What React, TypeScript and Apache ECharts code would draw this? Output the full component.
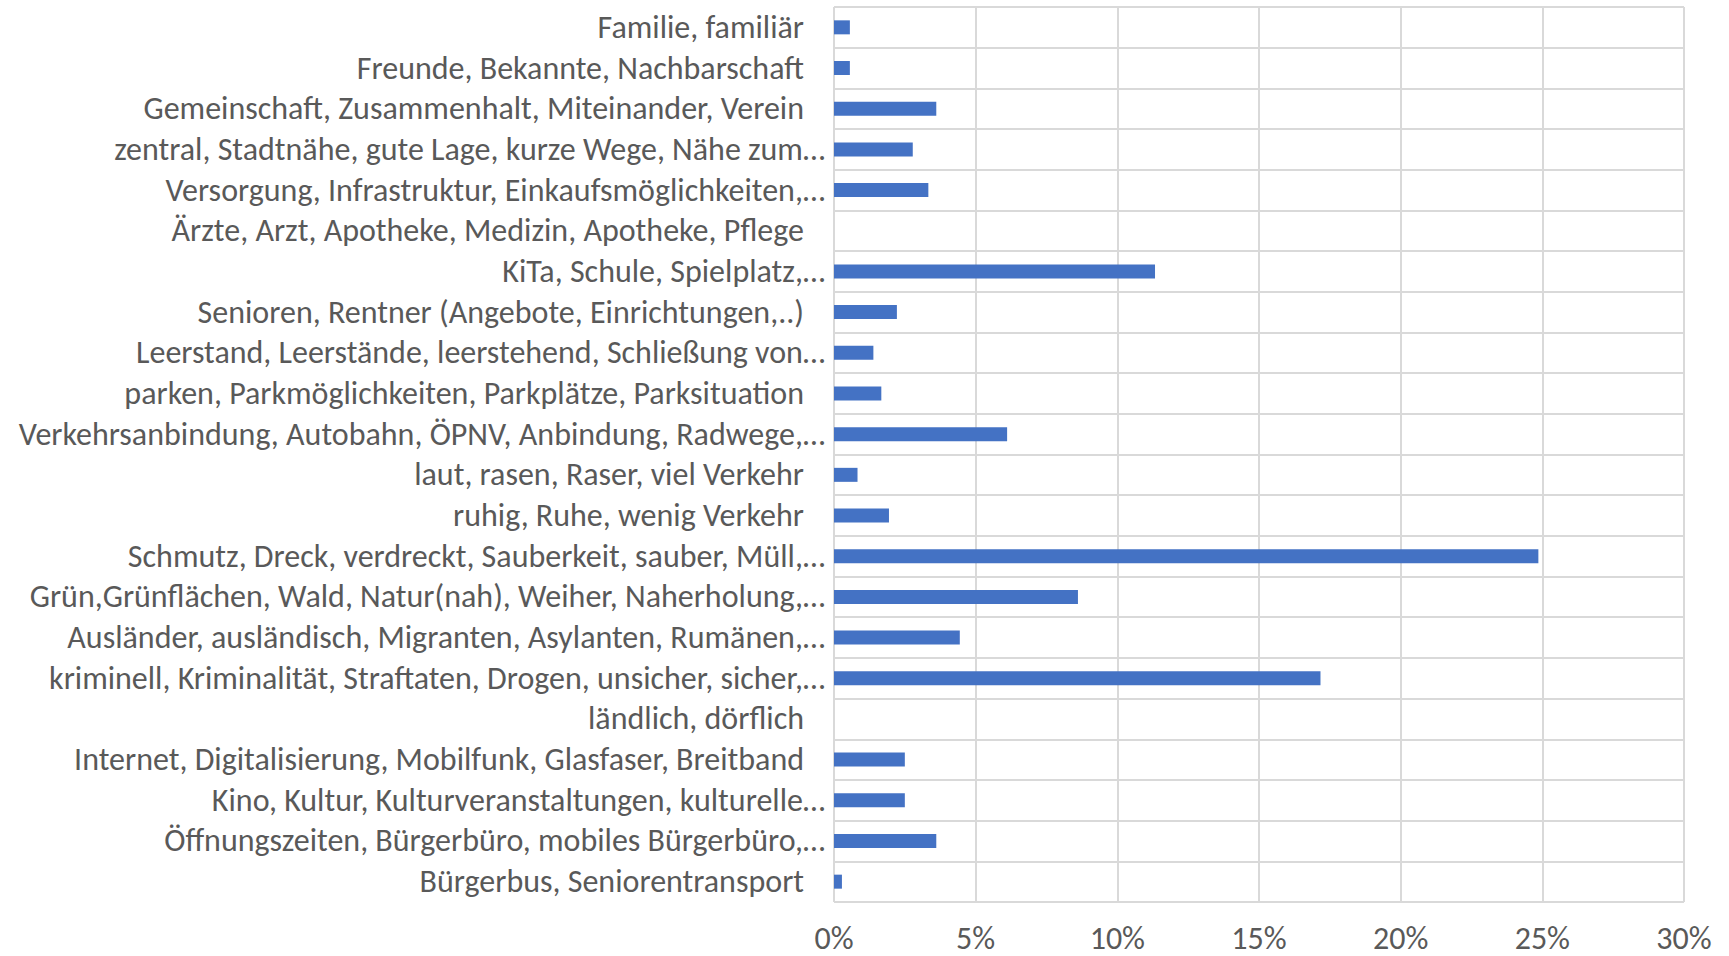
import React, { useEffect, useRef } from "react";
import * as echarts from "echarts";

const categories: string[] = [
  "Familie, familiär",
  "Freunde, Bekannte, Nachbarschaft",
  "Gemeinschaft, Zusammenhalt, Miteinander, Verein",
  "zentral, Stadtnähe, gute Lage, kurze Wege, Nähe zum…",
  "Versorgung, Infrastruktur, Einkaufsmöglichkeiten,…",
  "Ärzte, Arzt, Apotheke, Medizin, Apotheke, Pflege",
  "KiTa, Schule, Spielplatz,…",
  "Senioren, Rentner (Angebote, Einrichtungen,..)",
  "Leerstand, Leerstände, leerstehend, Schließung von…",
  "parken, Parkmöglichkeiten, Parkplätze, Parksituation",
  "Verkehrsanbindung, Autobahn, ÖPNV, Anbindung, Radwege,…",
  "laut, rasen, Raser, viel Verkehr",
  "ruhig, Ruhe, wenig Verkehr",
  "Schmutz, Dreck, verdreckt, Sauberkeit, sauber, Müll,…",
  "Grün,Grünflächen, Wald, Natur(nah), Weiher, Naherholung,…",
  "Ausländer, ausländisch, Migranten, Asylanten, Rumänen,…",
  "kriminell, Kriminalität, Straftaten, Drogen, unsicher, sicher,…",
  "ländlich, dörflich",
  "Internet, Digitalisierung, Mobilfunk, Glasfaser, Breitband",
  "Kino, Kultur, Kulturveranstaltungen, kulturelle…",
  "Öffnungszeiten, Bürgerbüro, mobiles Bürgerbüro,…",
  "Bürgerbus, Seniorentransport",
];

const values: number[] = [
  0.56, 0.56, 3.61, 2.78, 3.33, 0, 11.33, 2.22, 1.39, 1.67, 6.11, 0.83, 1.94,
  24.86, 8.61, 4.44, 17.17, 0, 2.5, 2.5, 3.61, 0.28,
];

const xTicks = { min: 0, max: 30, interval: 5 };

const FONT = "Carlito, Calibri, Lato, sans-serif";
const TEXT_COLOR = "#595959";
const GRID_COLOR = "#D9D9D9";
const BAR_COLOR = "#4472C4";

export default function App() {
  const ref = useRef<HTMLDivElement>(null);
  useEffect(() => {
    if (!ref.current) return;
    const chart = echarts.init(ref.current, undefined, { renderer: "svg" });
    chart.setOption({
      animation: false,
      backgroundColor: "#ffffff",
      grid: { left: 834, right: 45, top: 7, bottom: 54, containLabel: false },
      xAxis: {
        type: "value",
        min: xTicks.min,
        max: xTicks.max,
        interval: xTicks.interval,
        axisLine: { show: false },
        axisTick: { show: false },
        splitLine: { show: true, lineStyle: { color: GRID_COLOR, width: 2 } },
        axisLabel: {
          formatter: "{value}%",
          color: TEXT_COLOR,
          fontFamily: FONT,
          fontSize: 32,
          lineHeight: 32,
          margin: 20,
        },
      },
      yAxis: {
        type: "category",
        inverse: true,
        data: categories,
        boundaryGap: true,
        axisLine: { show: false },
        axisTick: { show: false },
        splitLine: { show: true, lineStyle: { color: GRID_COLOR, width: 2 } },
        axisLabel: {
          interval: 0,
          margin: 9,
          formatter: (v: string) => (v.endsWith("…") ? `{t|${v}}` : `{n|${v}}`),
          rich: {
            t: { color: TEXT_COLOR, fontFamily: FONT, fontSize: 32 },
            n: {
              color: TEXT_COLOR,
              fontFamily: FONT,
              fontSize: 32,
              padding: [0, 21, 0, 0],
            },
          },
        },
      },
      series: [
        {
          type: "bar",
          data: values,
          barWidth: 14,
          itemStyle: { color: BAR_COLOR },
        },
      ],
    });
    return () => chart.dispose();
  }, []);
  return (
    <div
      ref={ref}
      style={{ position: "fixed", left: 0, top: 0, width: 1729, height: 956 }}
    />
  );
}
